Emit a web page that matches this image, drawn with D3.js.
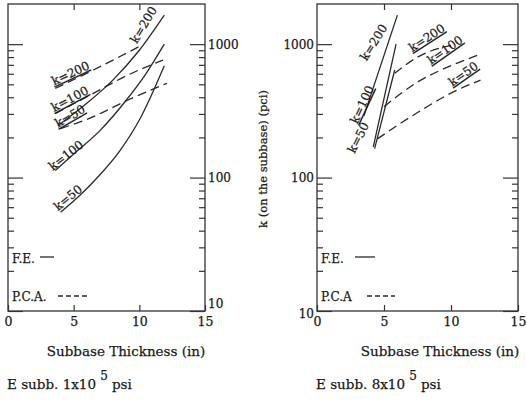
<!DOCTYPE html>
<html>
<head>
<meta charset="utf-8">
<script src="https://cdn.jsdelivr.net/npm/d3@7"></script>
<style>
  body { margin: 0; background: #fff; }
  svg text { font-family: "DejaVu Serif", "Liberation Serif", serif; fill: #1a1a1a; stroke: #1a1a1a; stroke-width: 0.25px; }
  .axis path, .axis line { stroke: #333; stroke-width: 1.2; }
  .axis text { font-size: 12px; }
  .fe { fill: none; stroke: #2a2a2a; stroke-width: 1.3; }
  .pca { fill: none; stroke: #2a2a2a; stroke-width: 1.3; stroke-dasharray: 9,5; }
  .lbl { font-size: 12px; }
</style>
</head>
<body>
<script>
// Chart Params
var svgWidth = 527;
var svgHeight = 400;

// axis ticks
var xTicks = [0, 5, 10, 15];
var yMajor = [10, 100, 1000];
var yMinor = [20, 30, 40, 50, 60, 70, 80, 90, 200, 300, 400, 500, 600, 700, 800, 900];

// E subb. 1x10^5 psi  (thickness in, k pci)
var feX_200a = [3.8, 6, 8, 10, 11.9];
var feK_200a = [245, 360, 540, 900, 1650];
var feX_100a = [3.6, 5, 7, 9, 10.5, 11.9];
var feK_100a = [113, 150, 225, 380, 600, 1000];
var feX_50a = [4, 5.5, 7, 8.5, 10, 11.9];
var feK_50a = [55, 74, 105, 158, 270, 690];
var pcaX_200a = [3.6, 6.5, 10];
var pcaK_200a = [466, 640, 960];
var pcaX_100a = [3.6, 6.5, 9.1, 11.8];
var pcaK_100a = [302, 428, 585, 760];
var pcaX_50a = [4, 6.2, 9.1, 12.1];
var pcaK_50a = [233, 278, 380, 509];

// E subb. 8x10^5 psi
var feX_200b = [3.5, 6.0];
var feK_200b = [290, 1650];
var feX_100b = [4.2, 5.9];
var feK_100b = [170, 1000];
var feX_50b = [4.3, 5.8];
var feK_50b = [165, 640];
var pcaX_200b = [5.8, 7.5, 10];
var pcaK_200b = [605, 800, 980];
var pcaX_100b = [5.0, 7.5, 10, 12];
var pcaK_100b = [340, 520, 690, 827];
var pcaX_50b = [4.5, 8, 10, 12.2];
var pcaK_50b = [195, 330, 430, 537];

function zip(xs, ks) { return xs.map(function(x, i) { return { x: x, k: ks[i] }; }); }

var svg = d3.select("body").append("svg")
  .attr("width", svgWidth)
  .attr("height", svgHeight);

function drawPanel(p) {
  var x = d3.scaleLinear().domain([0, 15]).range([p.left, p.right]);
  var y = d3.scaleLog().domain([10, 2000]).range([311, 4]);
  var g = svg.append("g");

  // frame
  g.append("rect")
    .attr("x", p.left).attr("y", y(2000))
    .attr("width", p.right - p.left).attr("height", y(10) - y(2000))
    .attr("fill", "none").attr("stroke", "#333").attr("stroke-width", 1.3);

  // bottom + top x ticks
  g.append("g").classed("axis", true)
    .attr("transform", `translate(0, ${y(10)})`)
    .call(d3.axisBottom(x).tickValues(xTicks).tickSizeInner(-6).tickSizeOuter(0).tickPadding(6))
    .call(s => s.select(".domain").remove())
    .selectAll("text").attr("dy", "0.75em").style("font-size", "12.5px");
  g.append("g").classed("axis", true)
    .attr("transform", `translate(0, ${y(2000)})`)
    .call(d3.axisTop(x).tickValues([5, 10]).tickSizeInner(-6).tickSizeOuter(0).tickFormat(""))
    .call(s => s.select(".domain").remove());

  // y ticks both sides
  [[p.left, d3.axisLeft, p.labelLeft], [p.right, d3.axisRight, !p.labelLeft]].forEach(function(a) {
    g.append("g").classed("axis", true)
      .attr("transform", `translate(${a[0]}, 0)`)
      .call(a[1](y).tickValues(yMinor).tickSizeInner(-6).tickSizeOuter(0).tickFormat(""))
      .call(s => s.select(".domain").remove());
    var ax = g.append("g").classed("axis", true)
      .attr("transform", `translate(${a[0]}, 0)`)
      .call(a[1](y).tickValues(yMajor).tickSizeInner(-15).tickSizeOuter(0).tickPadding(3)
        .tickFormat(a[2] ? d3.format("d") : ""))
      .call(s => s.select(".domain").remove());
    if (a[2]) {
      ax.selectAll("text").filter(d => d === 10).attr("dy", p.tenDy);
    }
  });

  var line = d3.line().x(d => x(d.x)).y(d => y(d.k)).curve(d3.curveMonotoneX);

  p.fe.forEach(function(s) { g.append("path").datum(s).attr("class", "fe").attr("d", line); });
  p.pca.forEach(function(s) { g.append("path").datum(s).attr("class", "pca").attr("d", line); });

  p.labels.forEach(function(l) {
    g.append("text").attr("class", "lbl")
      .attr("transform", `translate(${x(l[0])}, ${y(l[1])}) rotate(${l[2]})`)
      .attr("text-decoration", l[4] ? "underline" : null)
      .text(l[3]);
  });

  // legend
  g.append("text").attr("class", "lbl").attr("x", p.left + 4).attr("y", 263).text("F.E.");
  g.append("line").attr("class", "fe")
    .attr("x1", p.left + p.feL[0]).attr("x2", p.left + p.feL[1]).attr("y1", 257).attr("y2", 257);
  g.append("text").attr("class", "lbl").attr("x", p.left + 4).attr("y", 301).text(p.pcaText);
  g.append("line").attr("class", "pca").style("stroke-dasharray", "5,3")
    .attr("x1", p.left + p.pcaL[0]).attr("x2", p.left + p.pcaL[1]).attr("y1", 296).attr("y2", 296);

  // captions
  svg.append("text").attr("x", p.titleX).attr("y", 356).attr("text-anchor", "middle")
    .style("font-size", "13.5px").text("Subbase Thickness (in)");
  var cap = svg.append("text").attr("x", p.left - 1).attr("y", 389).style("font-size", "13.5px");
  cap.append("tspan").text(p.caption + " ");
  cap.append("tspan").attr("dy", -9).style("font-size", "12px").text("5");
  cap.append("tspan").attr("dy", 9).attr("dx", 4).text("psi");
}

drawPanel({
  left: 8, right: 205, labelLeft: false, tenDy: "-0.3em",
  fe: [zip(feX_200a, feK_200a), zip(feX_100a, feK_100a), zip(feX_50a, feK_50a)],
  pca: [zip(pcaX_200a, pcaK_200a), zip(pcaX_100a, pcaK_100a), zip(pcaX_50a, pcaK_50a)],
  labels: [
    [3.5, 490, -25, "k=200", true],
    [3.5, 310, -28, "k=100", true],
    [3.8, 236, -30, "k=50", true],
    [3.4, 112, -38, "k=100", false],
    [3.8, 56, -39, "k=50", false],
    [9.8, 1000, -59, "k=200", false]
  ],
  feL: [32, 46], pcaL: [50, 80], pcaText: "P.C.A.",
  titleX: 126, caption: "E subb. 1x10"
});

drawPanel({
  left: 317, right: 518, labelLeft: true, tenDy: "0.5em",
  fe: [zip(feX_200b, feK_200b), zip(feX_100b, feK_100b), zip(feX_50b, feK_50b)],
  pca: [zip(pcaX_200b, pcaK_200b), zip(pcaX_100b, pcaK_100b), zip(pcaX_50b, pcaK_50b)],
  labels: [
    [3.7, 740, -58, "k=200", false],
    [3.0, 250, -65, "k=100", true],
    [2.8, 150, -63, "k=50", false],
    [7.1, 870, -33, "k=200", true],
    [8.5, 700, -35, "k=100", true],
    [10.1, 480, -35, "k=50", true]
  ],
  feL: [38, 58], pcaL: [50, 78], pcaText: "P.C.A",
  titleX: 440, caption: "E subb. 8x10"
});

// y axis title
svg.append("text")
  .attr("transform", "translate(267, 159) rotate(-90)")
  .attr("text-anchor", "middle")
  .style("font-size", "11.5px")
  .text("k (on the subbase) (pci)");
</script>
</body>
</html>
